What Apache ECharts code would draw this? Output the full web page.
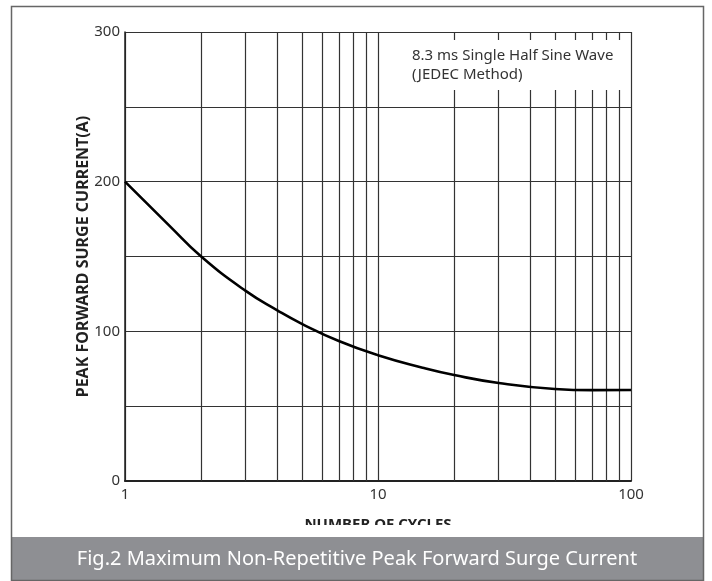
<!DOCTYPE html>
<html>
<head>
<meta charset="utf-8">
<script src="https://cdn.jsdelivr.net/npm/echarts@6/dist/echarts.min.js"></script>
<style>html,body{margin:0;padding:0;background:#fff;}#c{width:712px;height:581px;}</style>
</head>
<body>
<div id="c"></div>
<script>
var cycles = [1, 1.5, 2, 3, 4, 5, 7, 10, 15, 20, 30, 50, 70, 100];
var current = [200, 170.5, 150, 127, 114, 105, 93.5, 84, 75.7, 70.8, 65.5, 61.5, 60.7, 60.8];
var minorGrid = [2, 3, 4, 5, 6, 7, 8, 9, 20, 30, 40, 50, 60, 70, 80, 90];
var yLabels = [0, 100, 200, 300];
var FONT = '"Noto Sans", "Open Sans", sans-serif';

var chart = echarts.init(document.getElementById('c'), null, {renderer: 'canvas'});
chart.setOption({
  animation: false,
  backgroundColor: '#fff',
  title: {
    text: '8.3 ms Single Half Sine Wave\n(JEDEC Method)',
    left: 402, top: 40,
    backgroundColor: '#fff',
    padding: [6, 8, 6, 10],
    textStyle: {fontFamily: FONT, fontSize: 15, fontWeight: 'normal', color: '#333', lineHeight: 19}
  },
  grid: {left: 125, right: 81, top: 32, bottom: 100},
  xAxis: {
    type: 'log', logBase: 10, min: 1, max: 100,
    name: 'NUMBER OF CYCLES', nameLocation: 'middle', nameGap: 36, nameMoveOverlap: false,
    nameTextStyle: {fontFamily: FONT, fontSize: 15, fontWeight: 'bold', color: '#222', verticalAlign: 'top'},
    axisLine: {show: true, lineStyle: {color: '#222', width: 2}},
    axisTick: {show: false},
    axisLabel: {fontFamily: FONT, fontSize: 15, color: '#333', margin: 6},
    splitLine: {show: true, lineStyle: {color: '#333', width: 1.2}}
  },
  yAxis: {
    type: 'value', min: 0, max: 300, interval: 50,
    name: 'PEAK FORWARD SURGE CURRENT(A)', nameLocation: 'middle', nameGap: 34, nameMoveOverlap: false,
    nameTextStyle: {fontFamily: FONT, fontSize: 16, fontWeight: 'bold', color: '#222'},
    axisLine: {show: true, lineStyle: {color: '#222', width: 1.5}},
    axisTick: {show: false},
    axisLabel: {
      fontFamily: FONT, fontSize: 15, color: '#333', margin: 5,
      formatter: function (v) { return yLabels.indexOf(v) >= 0 ? String(v) : ''; }
    },
    splitLine: {show: true, lineStyle: {color: '#333', width: 1.2}}
  },
  series: [{
    type: 'line',
    data: cycles.map(function (c, i) { return [c, current[i]]; }),
    smooth: 0.5,
    showSymbol: false,
    lineStyle: {color: '#000', width: 2.6},
    z: 5,
    markLine: {
      silent: true, symbol: 'none',
      label: {show: false},
      lineStyle: {color: '#333', width: 1.2, type: 'solid'},
      data: minorGrid.map(function (v) { return {xAxis: v}; }),
      z: 1
    }
  }],
  graphic: [
    {type: 'rect', z: 199, shape: {x: 12, y: 525, width: 691, height: 12}, style: {fill: '#fff'}},
    {type: 'rect', z: 200, shape: {x: 12, y: 537, width: 691, height: 44}, style: {fill: '#8e8f93'}},
    {type: 'text', z: 201, x: 357, y: 559, style: {text: 'Fig.2 Maximum Non-Repetitive Peak Forward Surge Current', fill: '#fff', font: '20px "Noto Sans", sans-serif', textAlign: 'center', textVerticalAlign: 'middle'}},
    {type: 'rect', z: 202, shape: {x: 11.5, y: 6.5, width: 692, height: 574}, style: {fill: 'none', stroke: '#666', lineWidth: 1.5}}
  ]
});
</script>
</body>
</html>
